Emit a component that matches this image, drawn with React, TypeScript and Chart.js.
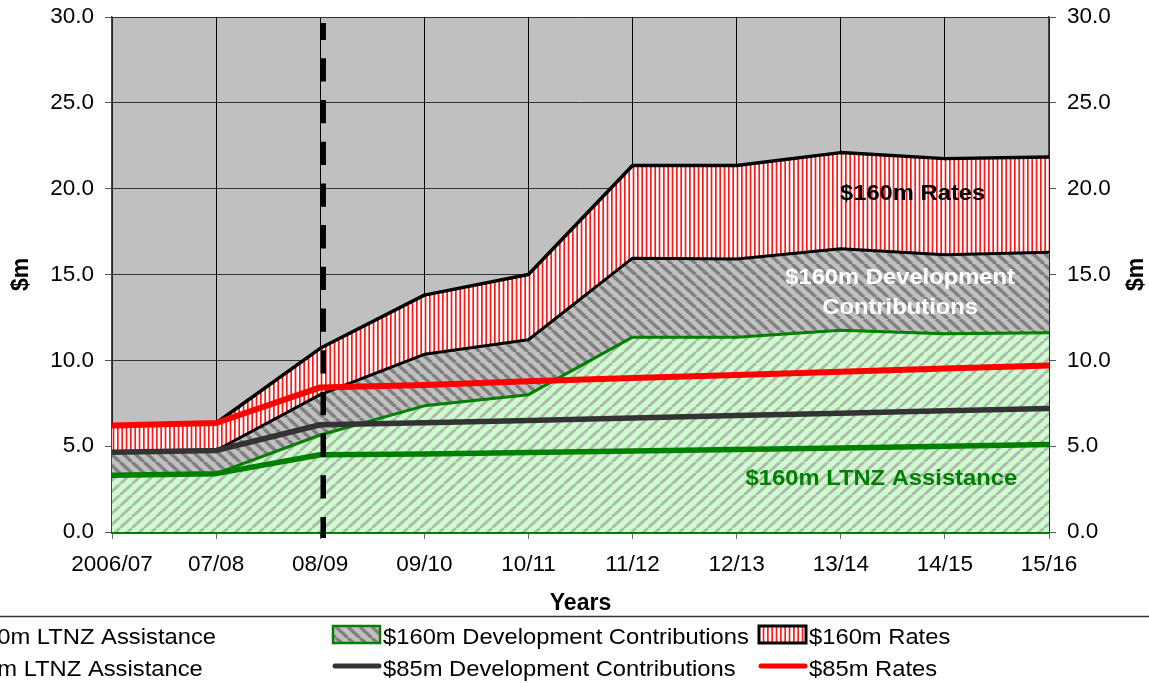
import React, { useEffect, useRef } from 'react';
import { Chart, registerables } from 'chart.js';

Chart.register(...registerables);

// ---------- data ----------
const categories = ['2006/07', '07/08', '08/09', '09/10', '10/11', '11/12', '12/13', '13/14', '14/15', '15/16'];
// cumulative levels ($m)
const ltnz160 = [3.3, 3.4, 5.65, 7.35, 8.0, 11.35, 11.35, 11.75, 11.55, 11.6];
const dev160 = [4.65, 4.75, 8.0, 10.35, 11.2, 15.95, 15.9, 16.5, 16.15, 16.3];
const rates160 = [6.2, 6.35, 10.7, 13.8, 15.0, 21.35, 21.35, 22.1, 21.75, 21.85];
const ltnz85 = [3.3, 3.4, 4.5, 4.55, 4.63, 4.72, 4.8, 4.9, 5.0, 5.1];
const dev85 = [4.65, 4.75, 6.25, 6.37, 6.5, 6.64, 6.78, 6.92, 7.06, 7.2];
const rates85 = [6.2, 6.35, 8.42, 8.56, 8.78, 8.97, 9.15, 9.34, 9.52, 9.7];
const seriesLabels = [
  '$160m LTNZ Assistance',
  '$160m Development Contributions',
  '$160m Rates',
  '$85m LTNZ Assistance',
  '$85m Development Contributions',
  '$85m Rates',
];
const yMin = 0;
const yMax = 30;
const yStep = 5;
const markerCategory = '08/09';
const xTitle = 'Years';
const yTitle = '$m';
// in-chart annotations: [text, category index, value (baseline)]
const areaLabels: [string, number, number, string][] = [
  ['$160m Rates', 7.69, 19.34, '#000000'],
  ['$160m Development', 7.57, 14.42, '#ffffff'],
  ['Contributions', 7.57, 12.7, '#ffffff'],
  ['$160m LTNZ Assistance', 7.39, 2.74, '#008000'],
];

const FONT = "'Liberation Sans', Arial, Helvetica, sans-serif";
const SX = 1.08;

function stripePattern(
  ctx: CanvasRenderingContext2D,
  kind: 'slash' | 'back' | 'vert',
  bg: string,
  fg: string,
  lw: number
): CanvasPattern {
  const c = document.createElement('canvas');
  let w = 12;
  let h = 11;
  if (kind === 'vert') {
    w = 13;
    h = 4;
  }
  c.width = w;
  c.height = h;
  const g = c.getContext('2d')!;
  g.fillStyle = bg;
  g.fillRect(0, 0, w, h);
  if (kind === 'vert') {
    g.fillStyle = fg;
    const p = w / 3;
    for (let i = 0; i < 3; i++) g.fillRect(i * p, 0, lw, h);
  } else {
    g.strokeStyle = fg;
    g.lineWidth = lw;
    for (let k = -1; k <= 1; k++) {
      g.beginPath();
      if (kind === 'slash') {
        g.moveTo(k * w, h);
        g.lineTo(k * w + w, 0);
      } else {
        g.moveTo(k * w, 0);
        g.lineTo(k * w + w, h);
      }
      g.stroke();
    }
  }
  return ctx.createPattern(c, 'repeat')!;
}

function drawText(
  ctx: CanvasRenderingContext2D,
  text: string,
  x: number,
  y: number,
  font: string,
  color: string,
  align: 'left' | 'center'
) {
  ctx.save();
  ctx.font = font;
  ctx.fillStyle = color;
  ctx.textBaseline = 'alphabetic';
  ctx.textAlign = 'left';
  const w = ctx.measureText(text).width * SX;
  const left = align === 'center' ? x - w / 2 : x;
  ctx.translate(left, y);
  ctx.scale(SX, 1);
  ctx.fillText(text, 0, 0);
  ctx.restore();
}

export default function App() {
  const ref = useRef<HTMLCanvasElement | null>(null);

  useEffect(() => {
    const canvas = ref.current;
    if (!canvas) return;
    const ctx = canvas.getContext('2d')!;
    const greenPat = stripePattern(ctx, 'slash', '#ccffcc', '#b2b8b2', 3);
    const devPat = stripePattern(ctx, 'back', '#c0c0c0', '#808080', 3.5);
    const ratesPat = stripePattern(ctx, 'vert', '#ffffff', '#ff1a1a', 1.7);
    const patterns = [greenPat, devPat, ratesPat];
    const borderCols = ['#008000', '#000000', '#000000'];
    const lineCols = ['#008000', '#333333', '#ff0000'];

    const bgPlugin = {
      id: 'bg',
      beforeDraw(chart: any) {
        const c = chart.ctx;
        const a = chart.chartArea;
        c.save();
        c.fillStyle = '#ffffff';
        c.fillRect(0, 0, chart.width, chart.height);
        c.fillStyle = '#c0c0c0';
        c.fillRect(a.left, a.top, a.right - a.left, a.bottom - a.top);
        c.restore();
      },
    };

    const overlayPlugin = {
      id: 'overlay',
      afterDatasetsDraw(chart: any) {
        const c = chart.ctx;
        const xs = chart.scales.x;
        const ys = chart.scales.y;
        const a = chart.chartArea;
        // dashed marker line
        const mx = xs.getPixelForValue(categories.indexOf(markerCategory)) + 3;
        c.save();
        c.strokeStyle = '#000000';
        c.lineWidth = 5.5;
        c.setLineDash([23.3, 18.4]);
        c.lineDashOffset = 6.4;
        c.beginPath();
        c.moveTo(mx, a.top + 6);
        c.lineTo(mx, a.bottom + 6);
        c.stroke();
        c.restore();
        // area labels
        for (const [t, xi, v, col] of areaLabels) {
          drawText(c, t, xs.getPixelForValue(xi), ys.getPixelForValue(v), `bold 22px ${FONT}`, col, 'center');
        }
      },
      afterDraw(chart: any) {
        const c = chart.ctx;
        const a = chart.chartArea;
        // right axis title (rotated like the left one)
        c.save();
        c.translate(chart.width - 12, (a.top + a.bottom) / 2);
        c.rotate(-Math.PI / 2);
        c.font = `bold 23px ${FONT}`;
        c.fillStyle = '#000';
        c.textAlign = 'center';
        c.textBaseline = 'middle';
        c.fillText(yTitle, 0, 0);
        c.restore();

        // legend
        const top = chart.height - chart.options.layout.padding.bottom;
        c.save();
        c.strokeStyle = '#333333';
        c.lineWidth = 1.5;
        c.beginPath();
        c.moveTo(0, top - 0.5);
        c.lineTo(chart.width, top - 0.5);
        c.stroke();
        c.restore();

        const labels = chart.data.datasets.map((d: any) => d.label);
        const font = `22px ${FONT}`;
        c.save();
        c.font = font;
        const w0 = c.measureText(labels[0]).width * SX;
        c.restore();
        const colText = [216 - w0, 383, 809];
        const rowBase = [top + 27, top + 59];
        for (let col = 0; col < 3; col++) {
          const tx = colText[col];
          const sx0 = tx - 50;
          const sx1 = tx - 3;
          // row 1: hatched box
          c.save();
          c.fillStyle = patterns[col];
          c.fillRect(sx0, top + 9, sx1 - sx0, 17);
          c.strokeStyle = col === 1 ? '#008000' : borderCols[col];
          c.lineWidth = col === 2 ? 3 : 2.5;
          c.strokeRect(sx0, top + 9, sx1 - sx0, 17);
          c.restore();
          drawText(c, labels[col], tx, rowBase[0], font, '#000', 'left');
          // row 2: line
          c.save();
          c.strokeStyle = lineCols[col];
          c.lineWidth = 5;
          c.lineCap = 'round';
          c.beginPath();
          c.moveTo(sx0 + 2, top + 49);
          c.lineTo(sx1 - 1, top + 49);
          c.stroke();
          c.restore();
          drawText(c, labels[col + 3], tx, rowBase[1], font, '#000', 'left');
        }
      },
    };

    const tickFont = { family: FONT, size: 22.5 };
    const yTickCb = (v: any) => Number(v).toFixed(1);

    const chart = new Chart(canvas, {
      type: 'line',
      data: {
        labels: categories,
        datasets: [
          {
            label: seriesLabels[0],
            data: ltnz160,
            fill: 'origin',
            backgroundColor: greenPat,
            borderColor: '#008000',
            borderWidth: 3,
            order: 1,
          },
          {
            label: seriesLabels[1],
            data: dev160,
            fill: '-1',
            backgroundColor: devPat,
            borderColor: '#000000',
            borderWidth: 3,
            order: 1,
          },
          {
            label: seriesLabels[2],
            data: rates160,
            fill: '-1',
            backgroundColor: ratesPat,
            borderColor: '#000000',
            borderWidth: 3.5,
            order: 1,
          },
          {
            label: seriesLabels[3],
            data: ltnz85,
            fill: false,
            borderColor: '#008000',
            borderWidth: 5.5,
            order: 0,
          },
          {
            label: seriesLabels[4],
            data: dev85,
            fill: false,
            borderColor: '#333333',
            borderWidth: 5.5,
            order: 0,
          },
          {
            label: seriesLabels[5],
            data: rates85,
            fill: false,
            borderColor: '#ff0000',
            borderWidth: 6,
            order: 0,
          },
        ] as any,
      },
      options: {
        responsive: false,
        animation: false,
        devicePixelRatio: 1,
        elements: {
          point: { radius: 0, hoverRadius: 0 },
          line: { tension: 0, borderJoinStyle: 'round' },
        },
        layout: { padding: { left: 0, right: 0, top: 17, bottom: 66 } },
        plugins: {
          legend: { display: false },
          tooltip: { enabled: false },
        },
        scales: {
          x: {
            type: 'category',
            offset: false,
            grid: { color: '#000000', lineWidth: 1, tickLength: 7, tickColor: '#666666' },
            border: { display: true, color: '#008000', width: 3 },
            ticks: { font: tickFont, color: '#000', padding: 12.5, maxRotation: 0, autoSkip: false },
            title: {
              display: true,
              text: xTitle,
              font: { family: FONT, size: 23, weight: 'bold' },
              color: '#000',
              padding: { top: 0, bottom: 0 },
            },
            afterFit: (s: any) => {
              s.height = 85;
              s.paddingLeft = 0;
              s.paddingRight = 0;
            },
          },
          y: {
            position: 'left',
            min: yMin,
            max: yMax,
            grid: { color: '#333333', lineWidth: 1, tickLength: 7, tickColor: '#555555' },
            border: { display: true, color: '#444444', width: 1.5 },
            ticks: { stepSize: yStep, font: tickFont, color: '#000', padding: 11, callback: yTickCb },
            title: {
              display: true,
              text: yTitle,
              font: { family: FONT, size: 23, weight: 'bold' },
              color: '#000',
              padding: { top: 8, bottom: 0 },
            },
            afterFit: (s: any) => {
              s.width = 112;
              s.paddingTop = 0;
              s.paddingBottom = 0;
            },
          },
          y2: {
            position: 'right',
            min: yMin,
            max: yMax,
            grid: { drawOnChartArea: false, color: '#555555', tickLength: 7 },
            border: { display: true, color: '#444444', width: 1.5 },
            ticks: { stepSize: yStep, font: tickFont, color: '#000', padding: 11, callback: yTickCb },
            afterFit: (s: any) => {
              s.width = 100;
              s.paddingTop = 0;
              s.paddingBottom = 0;
            },
          },
        },
      } as any,
      plugins: [bgPlugin, overlayPlugin],
    });

    return () => chart.destroy();
  }, []);

  return (
    <div style={{ position: 'fixed', left: 0, top: 0, width: 1149, height: 683, background: '#fff' }}>
      <canvas ref={ref} width={1149} height={683} style={{ display: 'block', width: 1149, height: 683 }} />
    </div>
  );
}
